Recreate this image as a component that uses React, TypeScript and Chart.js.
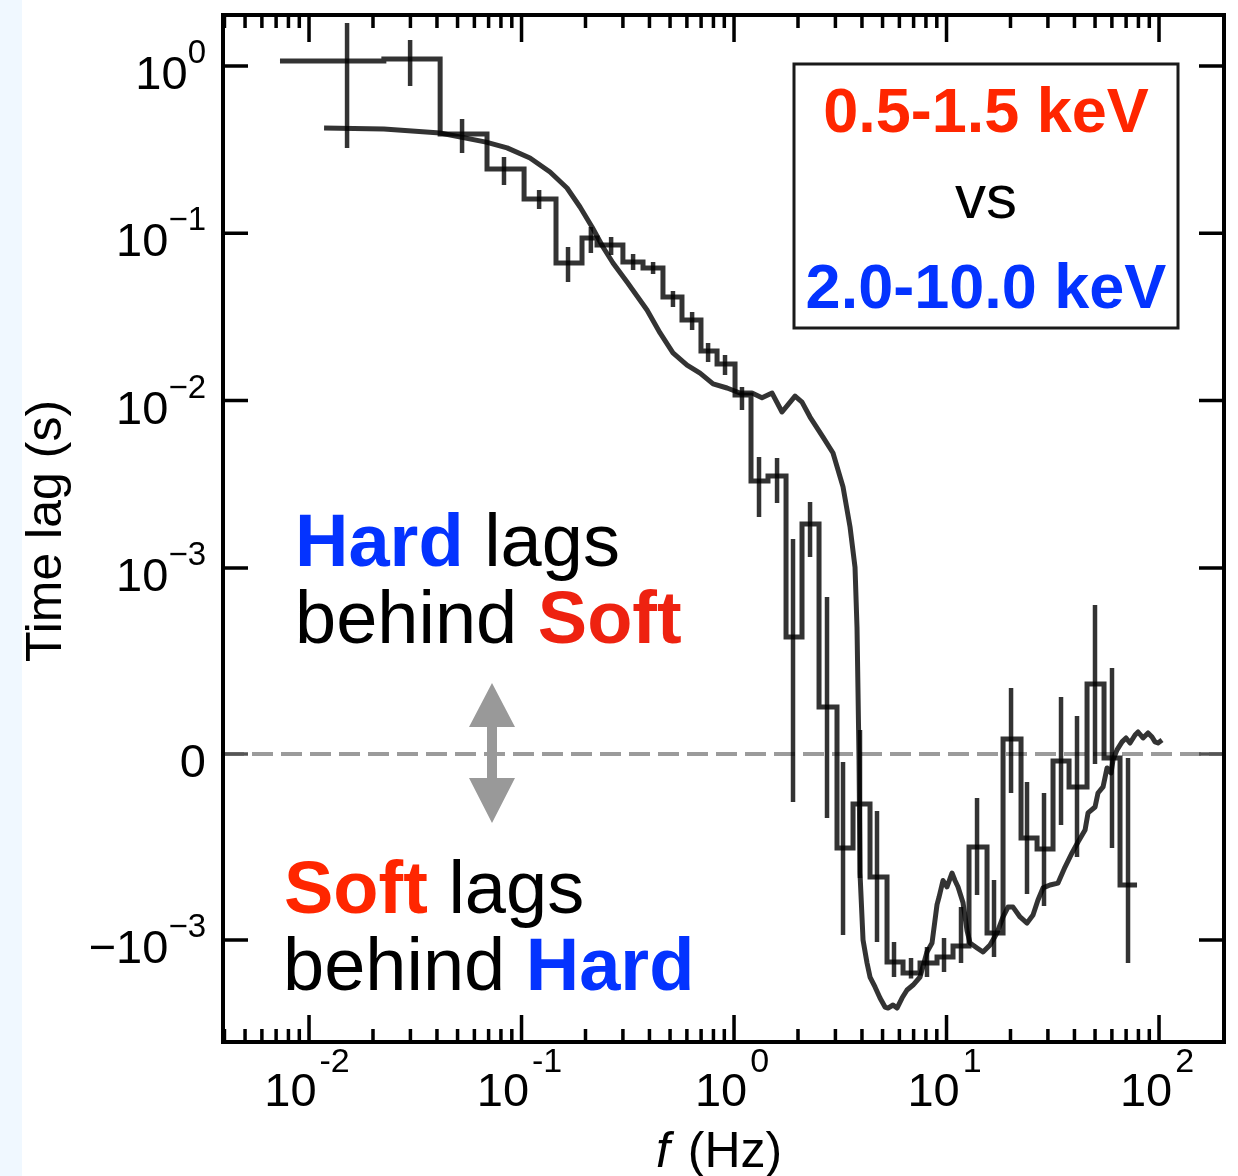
import React, { useEffect, useRef } from 'react';
import { Chart, registerables, Scale } from 'chart.js';

// ---------------- data ----------------
// Step histogram: bin edges (Hz), lag per bin (s), error bar position and range
const binEdges = [0.0073, 0.0225, 0.0414, 0.0688, 0.1028, 0.1453, 0.1926, 0.2266, 0.300, 0.373, 0.463, 0.569, 0.699, 0.832, 1.011, 1.202, 1.445, 1.757, 2.089, 2.512, 3.052, 3.631, 4.365, 5.248, 6.242, 7.504, 9.022, 10.73, 12.76, 15.51, 18.45, 22.42, 26.67, 31.71, 37.72, 45.84, 55.11, 65.54, 78.8];
const binCenters = [0.0151, 0.0299, 0.0525, 0.0827, 0.121, 0.1655, 0.212, 0.264, 0.335, 0.416, 0.516, 0.635, 0.755, 0.907, 1.090, 1.311, 1.594, 1.895, 2.279, 2.739, 3.258, 3.916, 4.708, 5.661, 6.806, 8.093, 9.732, 11.70, 13.92, 16.73, 20.12, 23.92, 28.76, 34.58, 41.12, 49.97, 60.08, 71.47];
const lagValues = [1.071, 1.101, 0.3924, 0.2423, 0.1603, 0.06645, 0.09374, 0.08513, 0.06738, 0.06204, 0.04159, 0.03032, 0.01979, 0.01655, 0.0108, 0.003307, 0.003541, 6.29e-4, 0.001829, 2.53e-4, -5.05e-4, -2.69e-4, -6.61e-4, -1.353e-3, -1.575e-3, -1.372e-3, -1.264e-3, -1.086e-3, -5.0e-4, -9.62e-4, 8.1e-5, -4.52e-4, -5.11e-4, -3.8e-5, -1.77e-4, 3.76e-4, -2.2e-5, -7.04e-4];
const lagErrHigh = [1.807, 1.430, 0.4823, 0.2858, 0.1815, 0.08279, 0.1091, 0.09504, 0.07521, 0.06738, 0.04519, 0.03385, 0.02209, 0.01874, 0.01206, 0.0046, 0.004537, 0.001489, 0.002477, 8.44e-4, -4.3e-5, 1.29e-4, -3.06e-4, -1.028e-3, -1.281e-3, -1.101e-3, -9.89e-4, -8.23e-4, -2.37e-4, -6.77e-4, 3.55e-4, -1.51e-4, -2.1e-4, 3.06e-4, 2.04e-4, 8.01e-4, 4.62e-4, -2.2e-5];
const lagErrLow = [0.3236, 0.7593, 0.302, 0.1944, 0.1397, 0.05115, 0.07623, 0.07418, 0.06035, 0.05709, 0.03626, 0.02642, 0.01701, 0.01422, 0.00879, 0.002014, 0.002443, -2.58e-4, 0.001162, -3.44e-4, -9.73e-4, -6.67e-4, -1.028e-3, -1.664e-3, -1.7e-3, -1.664e-3, -1.554e-3, -1.372e-3, -7.58e-4, -1.264e-3, -2.1e-4, -7.53e-4, -8.17e-4, -3.82e-4, -5.54e-4, -5.4e-5, -5.05e-4, -1.372e-3];

// Model curve
const modelFreq = [0.01177, 0.0225, 0.0414, 0.0681, 0.0855, 0.1096, 0.1362, 0.1637, 0.1885, 0.2147, 0.2417, 0.2694, 0.3137, 0.3895, 0.4486, 0.516, 0.601, 0.692, 0.797, 0.927, 1.067, 1.215, 1.354, 1.510, 1.682, 1.937, 2.089, 2.279, 2.623, 2.923, 3.258, 3.515, 3.710, 3.791, 3.833, 3.875, 3.916, 4.047, 4.226, 4.365, 4.608, 4.865, 5.136, 5.305, 5.601, 5.850, 6.175, 6.518, 6.957, 7.504, 8.093, 8.546, 9.022, 9.22, 9.627, 10.05, 10.61, 10.96, 11.33, 11.96, 12.49, 12.90, 13.92, 14.85, 16.02, 17.28, 18.45, 19.47, 20.56, 22.18, 23.92, 25.53, 26.94, 28.45, 30.70, 33.47, 36.11, 38.95, 41.57, 44.86, 46.34, 50.0, 51.63, 54.52, 56.93, 59.45, 60.75, 63.44, 66.97, 69.94, 73.04, 77.13, 79.66, 84.09, 88.77, 92.71, 95.77, 98.92, 103.3];
const modelLag = [0.426, 0.420, 0.398, 0.351, 0.324, 0.282, 0.2325, 0.1866, 0.1436, 0.1091, 0.0828, 0.0665, 0.0512, 0.0348, 0.0254, 0.0193, 0.0163, 0.0146, 0.0126, 0.0119, 0.0111, 0.0111, 0.0104, 0.0111, 0.00855, 0.01065, 0.0098, 0.00798, 0.00606, 0.00486, 0.00305, 0.00176, 0.00101, 6.8e-4, 3.3e-4, -3.2e-5, -6.4e-4, -1.0e-3, -1.372e-3, -1.664e-3, -1.909e-3, -2.222e-3, -2.515e-3, -2.55e-3, -2.446e-3, -2.55e-3, -2.222e-3, -1.99e-3, -1.858e-3, -1.664e-3, -1.18e-3, -1.042e-3, -8.1e-4, -7.7e-4, -6.8e-4, -7.15e-4, -6.4e-4, -6.8e-4, -7.15e-4, -8.0e-4, -9.5e-4, -1.042e-3, -1.116e-3, -1.18e-3, -1.071e-3, -9.62e-4, -8.76e-4, -8.23e-4, -8.23e-4, -8.76e-4, -9.09e-4, -8.66e-4, -7.85e-4, -7.2e-4, -7.04e-4, -6.94e-4, -6.08e-4, -5.32e-4, -4.73e-4, -4.09e-4, -3.17e-4, -2.85e-4, -2.1e-4, -1.77e-4, -7.5e-5, -1.02e-4, -3.2e-5, 2.2e-5, 6.5e-5, 8.6e-5, 5.9e-5, 1.02e-4, 1.18e-4, 8.6e-5, 1.13e-4, 9.1e-5, 6.5e-5, 5.9e-5, 7.5e-5];

// Axes
const xMajorTicks = [0.01, 0.1, 1, 10, 100];
const xTickBases = ['10', '10', '10', '10', '10'];
const xTickExps = ['-2', '-1', '0', '1', '2'];
const xMinorMultipliers = [2, 3, 4, 5, 6, 7, 8, 9];
const yTickValues = [1, 0.1, 0.01, 0.001, 0, -0.001];
const yTickBases = ['10', '10', '10', '10', '0', '\u221210'];
const yTickExps = ['0', '\u22121', '\u22122', '\u22123', '', '\u22123'];

const X_MIN = 0.003937;
const X_MAX = 202.2;
const Y_MIN = -0.00407;
const Y_MAX = 2.018;

// symlog transform
const LIN_THRESH = 1e-3;
const LIN_SCALE = 1.112;
function symT(v: number) {
  const a = Math.abs(v);
  if (a < LIN_THRESH) return (LIN_SCALE * v) / LIN_THRESH;
  return Math.sign(v) * (Math.log10(a / LIN_THRESH) + LIN_SCALE);
}
function symInv(t: number) {
  const a = Math.abs(t);
  if (a < LIN_SCALE) return (t / LIN_SCALE) * LIN_THRESH;
  return Math.sign(t) * LIN_THRESH * Math.pow(10, a - LIN_SCALE);
}

class SymlogScale extends (Scale as any) {
  static id = 'symlog';
  static defaults = {};
  _t0: number = 0;
  _t1: number = 1;
  parse(raw: any) {
    if (raw === null || raw === undefined) return null;
    const v = Number(raw);
    return Number.isFinite(v) ? v : null;
  }
  determineDataLimits() {
    this.min = this.options.min;
    this.max = this.options.max;
  }
  buildTicks() {
    return yTickValues.map((value) => ({ value }));
  }
  getLabelForValue(v: number) {
    return String(v);
  }
  configure() {
    super.configure();
    this._t0 = symT(this.min);
    this._t1 = symT(this.max);
  }
  getPixelForValue(v: any) {
    if (v === null || v === undefined || Number.isNaN(v)) return NaN;
    return this.getPixelForDecimal((symT(v) - this._t0) / (this._t1 - this._t0));
  }
  getValueForPixel(p: number) {
    return symInv(this._t0 + this.getDecimalForPixel(p) * (this._t1 - this._t0));
  }
}

Chart.register(...registerables, SymlogScale as any);

const FONT = '"Liberation Sans", Arial, Helvetica, sans-serif';
const RED = '#ff2600';
const RED2 = '#ee2210';
const BLUE = '#0433ff';
const LINE = 'rgba(0,0,0,0.8)';

function drawRuns(ctx: CanvasRenderingContext2D, runs: { t: string; b?: boolean; c: string }[], x: number, y: number, size: number) {
  let cx = x;
  for (const r of runs) {
    ctx.font = `${r.b ? 'bold ' : ''}${size}px ${FONT}`;
    ctx.fillStyle = r.c;
    ctx.fillText(r.t, cx, y);
    cx += ctx.measureText(r.t).width;
  }
}

const decorPlugin = {
  id: 'decor',
  beforeDatasetsDraw(chart: any) {
    const { ctx, chartArea: a, scales } = chart;
    const y0 = scales.y.getPixelForValue(0);
    ctx.save();
    ctx.strokeStyle = '#9b9b9b';
    ctx.lineWidth = 4;
    ctx.setLineDash([21, 8]);
    ctx.beginPath();
    ctx.moveTo(a.left, y0);
    ctx.lineTo(a.right, y0);
    ctx.stroke();
    ctx.setLineDash([]);
    // double-headed arrow
    const ax = 492;
    ctx.fillStyle = '#999999';
    ctx.beginPath();
    ctx.moveTo(ax, 683);
    ctx.lineTo(ax + 23, 727);
    ctx.lineTo(ax + 5, 727);
    ctx.lineTo(ax + 5, 778);
    ctx.lineTo(ax + 23, 778);
    ctx.lineTo(ax, 823);
    ctx.lineTo(ax - 23, 778);
    ctx.lineTo(ax - 5, 778);
    ctx.lineTo(ax - 5, 727);
    ctx.lineTo(ax - 23, 727);
    ctx.closePath();
    ctx.fill();
    ctx.restore();
  },
  afterDatasetsDraw(chart: any) {
    const { ctx, chartArea: a, scales } = chart;
    const xs = scales.x;
    const ys = scales.y;
    ctx.save();
    ctx.strokeStyle = '#000';
    ctx.lineCap = 'butt';

    // x ticks (inward, top & bottom)
    ctx.lineWidth = 3.5;
    for (let d = -3; d <= 2; d++) {
      for (const m of [1, ...xMinorMultipliers]) {
        const v = m * Math.pow(10, d);
        if (v < X_MIN || v > 100.0001) continue;
        const px = xs.getPixelForValue(v);
        const len = m === 1 ? 27 : 13;
        ctx.beginPath();
        ctx.moveTo(px, a.bottom);
        ctx.lineTo(px, a.bottom - len);
        ctx.moveTo(px, a.top);
        ctx.lineTo(px, a.top + len);
        ctx.stroke();
      }
    }
    // y ticks (inward, left & right)
    ctx.lineWidth = 3.5;
    for (const v of yTickValues) {
      const py = ys.getPixelForValue(v);
      ctx.strokeStyle = v === 0 ? '#555' : '#000';
      ctx.beginPath();
      ctx.moveTo(a.left, py);
      ctx.lineTo(a.left + 25, py);
      ctx.moveTo(a.right - 25, py);
      ctx.lineTo(a.right, py);
      ctx.stroke();
    }
    // frame
    ctx.strokeStyle = '#000';
    ctx.lineWidth = 4;
    ctx.strokeRect(a.left, a.top, a.right - a.left, a.bottom - a.top);

    // y tick labels
    ctx.fillStyle = '#000';
    ctx.textAlign = 'left';
    ctx.textBaseline = 'alphabetic';
    yTickValues.forEach((v, i) => {
      const py = ys.getPixelForValue(v);
      const base = yTickBases[i];
      const exp = yTickExps[i];
      ctx.font = `47px ${FONT}`;
      const wb = ctx.measureText(base).width;
      ctx.font = `33px ${FONT}`;
      const we = exp ? ctx.measureText(exp).width : 0;
      const start = 206 - wb - we;
      ctx.font = `47px ${FONT}`;
      ctx.fillText(base, start, py + 23);
      if (exp) {
        ctx.font = `33px ${FONT}`;
        ctx.fillText(exp, start + wb, py - 3);
      }
    });
    // x tick labels
    xMajorTicks.forEach((v, i) => {
      const px = xs.getPixelForValue(v);
      const base = xTickBases[i];
      const exp = xTickExps[i];
      ctx.font = `47px ${FONT}`;
      const wb = ctx.measureText(base).width;
      ctx.font = `34px ${FONT}`;
      const we = ctx.measureText(exp).width;
      const total = wb + 3 + we;
      const start = px - 2 - total / 2;
      ctx.font = `47px ${FONT}`;
      ctx.fillText(base, start, a.bottom + 64);
      ctx.font = `34px ${FONT}`;
      ctx.fillText(exp, start + wb + 3, a.bottom + 30);
    });

    // axis titles
    ctx.save();
    ctx.translate(61, 531);
    ctx.rotate(-Math.PI / 2);
    ctx.textAlign = 'center';
    ctx.font = `50px ${FONT}`;
    ctx.fillStyle = '#000';
    ctx.fillText('Time lag (s)', 0, 0);
    ctx.restore();

    ctx.textAlign = 'left';
    ctx.font = `italic 50px ${FONT}`;
    ctx.fillStyle = '#000';
    ctx.fillText('f', 656, 1167);
    const wf = ctx.measureText('f ').width;
    ctx.font = `50px ${FONT}`;
    ctx.fillText('(Hz)', 656 + wf + 4, 1167);

    // annotations
    drawRuns(ctx, [{ t: 'Hard', b: true, c: BLUE }, { t: ' lags', c: '#000' }], 295, 566, 74);
    drawRuns(ctx, [{ t: 'behind ', c: '#000' }, { t: 'Soft', b: true, c: RED2 }], 295, 643, 74);
    drawRuns(ctx, [{ t: 'Soft', b: true, c: RED }, { t: ' lags', c: '#000' }], 284, 913, 74);
    drawRuns(ctx, [{ t: 'behind ', c: '#000' }, { t: 'Hard', b: true, c: BLUE }], 283, 990, 74);

    // legend box
    ctx.lineWidth = 3;
    ctx.strokeStyle = '#1a1a1a';
    ctx.strokeRect(794, 64, 384, 264);
    ctx.textAlign = 'center';
    ctx.font = `bold 63px ${FONT}`;
    ctx.fillStyle = RED;
    ctx.fillText('0.5-1.5 keV', 986, 132);
    ctx.font = `62px ${FONT}`;
    ctx.fillStyle = '#000';
    ctx.fillText('vs', 986, 218);
    ctx.font = `bold 63px ${FONT}`;
    ctx.fillStyle = BLUE;
    ctx.fillText('2.0-10.0 keV', 986, 308);
    ctx.restore();
  },
};

export default function App() {
  const ref = useRef<HTMLCanvasElement>(null);
  useEffect(() => {
    const stepData: any[] = binEdges.slice(0, -1).map((f, i) => ({ x: f, y: lagValues[i] }));
    stepData.push({ x: binEdges[binEdges.length - 1], y: lagValues[lagValues.length - 1] });
    const errData: any[] = [];
    binCenters.forEach((f, i) => {
      errData.push({ x: f, y: lagErrLow[i] }, { x: f, y: lagErrHigh[i] }, { x: f, y: null });
    });
    const modelData = modelFreq.map((f, i) => ({ x: f, y: modelLag[i] }));

    const chart = new Chart(ref.current as HTMLCanvasElement, {
      type: 'line',
      data: {
        datasets: [
          { label: 'Model', data: modelData, borderColor: LINE, borderWidth: 5, pointRadius: 0, tension: 0, borderJoinStyle: 'round', fill: false },
          { label: 'Time lag', data: stepData, borderColor: LINE, borderWidth: 5, pointRadius: 0, stepped: 'before', borderJoinStyle: 'miter', fill: false },
          { label: 'Errors', data: errData, borderColor: LINE, borderWidth: 4.5, pointRadius: 0, spanGaps: false, borderCapStyle: 'butt', fill: false },
        ] as any,
      },
      options: {
        animation: false,
        responsive: false,
        devicePixelRatio: 1,
        events: [],
        layout: { padding: { left: 223, top: 15, right: 14, bottom: 134 } },
        plugins: { legend: { display: false }, tooltip: { enabled: false } },
        scales: {
          x: { type: 'logarithmic', min: X_MIN, max: X_MAX, display: false },
          y: { type: 'symlog' as any, min: Y_MIN, max: Y_MAX, display: false } as any,
        },
      } as any,
      plugins: [decorPlugin as any],
    });
    return () => chart.destroy();
  }, []);

  return (
    <div style={{ position: 'absolute', left: 0, top: 0, width: 1238, height: 1176, background: '#ffffff', overflow: 'hidden' }}>
      <div style={{ position: 'absolute', left: 0, top: 0, width: 22, height: 1176, background: '#f0f8ff' }} />
      <canvas ref={ref} width={1238} height={1176} style={{ position: 'absolute', left: 0, top: 0, width: 1238, height: 1176 }} />
    </div>
  );
}
